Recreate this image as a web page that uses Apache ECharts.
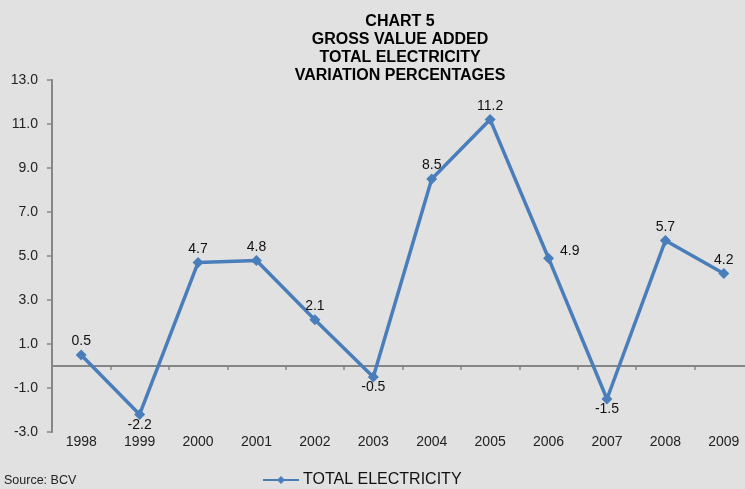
<!DOCTYPE html>
<html>
<head>
<meta charset="utf-8">
<script src="https://cdn.jsdelivr.net/npm/echarts@6/dist/echarts.min.js"></script>
<style>
  html, body { margin: 0; padding: 0; background: #e1e1e1; overflow: hidden; }
  #main { width: 745px; height: 489px; }
</style>
</head>
<body>
<div id="main"></div>
<script>
// data
var years = ['1998', '1999', '2000', '2001', '2002', '2003', '2004', '2005', '2006', '2007', '2008', '2009'];
var electricity = [0.5, -2.2, 4.7, 4.8, 2.1, -0.5, 8.5, 11.2, 4.9, -1.5, 5.7, 4.2];
var labelPos = ['top', 'bottom', 'top', 'top', 'top', 'bottom', 'top', 'top', 'right', 'bottom', 'top', 'top'];
var titleLines = ['CHART 5', 'GROSS VALUE ADDED', 'TOTAL ELECTRICITY', 'VARIATION PERCENTAGES'];

var chart = echarts.init(document.getElementById('main'));
var font = 'Liberation Sans, Arial, sans-serif';

var points = electricity.map(function (v, i) {
  var pos = labelPos[i];
  var lbl = { position: pos, distance: pos == 'bottom' ? -2 : 1 };
  if (pos == 'right') { lbl.distance = 6; lbl.offset = [0, -7]; }
  return { value: v, label: lbl };
});

var option = {
  backgroundColor: '#e1e1e1',
  animation: false,
  textStyle: { fontFamily: font },
  graphic: [{
    type: 'text', x: 400, y: 12,
    style: {
      text: titleLines.join('\n'), textAlign: 'center',
      font: 'bold 16px Liberation Sans, Arial', lineHeight: 18.2, fill: '#000'
    }
  }, {
    type: 'text', left: 4, top: 474,
    style: { text: 'Source: BCV', font: '12.5px Liberation Sans, Arial', fill: '#222' }
  }],
  legend: {
    data: ['TOTAL ELECTRICITY'],
    left: 262, top: 472, padding: 0,
    itemWidth: 36, itemHeight: 10, itemGap: 4,
    textStyle: { fontFamily: font, fontSize: 16, color: '#111', padding: [0, 0, 0, -1] }
  },
  grid: { left: 52, top: 80, right: -8, height: 352, containLabel: false, outerBoundsMode: 'none' },
  xAxis: [{
    // bottom labels only
    type: 'category',
    data: years,
    position: 'bottom',
    axisLine: { show: false, onZero: false },
    axisTick: { show: false },
    axisLabel: { fontSize: 14, color: '#222', fontFamily: font, margin: 3 }
  }, {
    // zero line with ticks
    type: 'category',
    data: years,
    position: 'bottom',
    axisLine: { show: true, onZero: true, lineStyle: { color: '#868686', width: 2 } },
    axisTick: { show: true, inside: false, length: 4, lineStyle: { color: '#868686', width: 1.5 } },
    axisLabel: { show: false }
  }],
  yAxis: {
    type: 'value',
    min: -3, max: 13, interval: 2,
    axisLine: { show: true, onZero: false, lineStyle: { color: '#868686', width: 2 } },
    axisTick: { show: true, length: 5, lineStyle: { color: '#868686', width: 1.5 } },
    splitLine: { show: false },
    axisLabel: {
      fontSize: 14, color: '#222', fontFamily: font, margin: 14,
      formatter: function (v) { return v.toFixed(1); }
    }
  },
  series: [{
    name: 'TOTAL ELECTRICITY',
    type: 'line',
    xAxisIndex: 0,
    data: points,
    symbol: 'diamond',
    symbolSize: 11,
    itemStyle: { color: '#4a7ebb' },
    lineStyle: { color: '#4a7ebb', width: 3.5 },
    label: {
      show: true, fontSize: 14, color: '#111', fontFamily: font,
      formatter: function (p) { return p.value.toFixed(1); }
    }
  }]
};
chart.setOption(option);
</script>
</body>
</html>
